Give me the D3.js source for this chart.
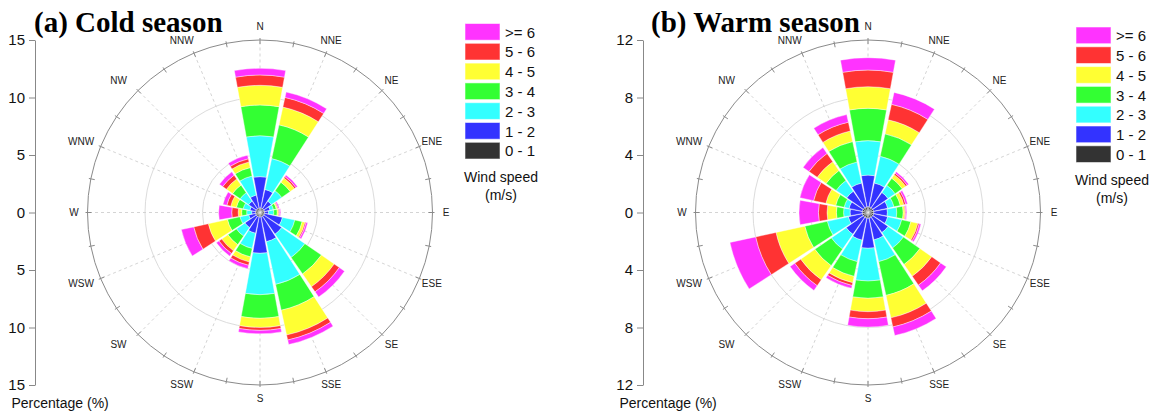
<!DOCTYPE html>
<html>
<head>
<meta charset="utf-8">
<script src="https://cdn.jsdelivr.net/npm/d3@7"></script>
<style>
  html, body { margin: 0; padding: 0; background: #fff; }
  svg { display: block; }
  text { font-family: "Liberation Sans", Arial, sans-serif; }
  text.title { font-family: "Liberation Serif", "Times New Roman", serif; font-weight: bold; }
</style>
</head>
<body>
<svg id="chart" width="1156" height="415"></svg>
<script>
// Wind direction sectors, clockwise from north
const directions = ["N", "NNE", "NE", "ENE", "E", "ESE", "SE", "SSE",
                    "S", "SSW", "SW", "WSW", "W", "WNW", "NW", "NNW"];

// Wind speed classes (m/s) and their colours, lowest class first
const speedBins  = ["0 - 1", "1 - 2", "2 - 3", "3 - 4", "4 - 5", "5 - 6", ">= 6"];
const binColors  = ["#333333", "#3333ff", "#33ffff", "#33ff33", "#ffff33", "#ff3333", "#ff33ff"];

// Cold season: frequency (%) of each speed class per direction
const cold01 = [0.4, 0.4, 0.4, 0.4, 0.4, 0.4, 0.4, 0.4, 0.4, 0.4, 0.4, 0.4, 0.4, 0.4, 0.4, 0.4];
const cold12 = [2.72, 1.65, 0.8, 0.5, 0.35, 1.6, 1.9, 2.2, 3.15, 1.45, 1.2, 0.6, 0.32, 0.5, 0.8, 1.15];
const cold23 = [3.56, 2.75, 1.1, 0.3, 0.45, 1.1, 2.45, 3.8, 3.6, 1.35, 0.9, 0.78, 0.44, 0.6, 0.9, 1.7];
const cold34 = [2.67, 3.0, 0.9, 0.25, 0.3, 0.65, 1.75, 2.3, 2.05, 0.75, 0.9, 1.12, 0.44, 0.6, 0.8, 0.75];
const cold45 = [1.71, 1.58, 0.45, 0.1, 0.12, 0.25, 1.35, 2.2, 0.8, 0.45, 0.65, 1.7, 0.3, 0.5, 0.65, 0.5];
const cold56 = [0.9, 0.86, 0.15, 0.07, 0.08, 0.1, 0.55, 0.45, 0.25, 0.3, 0.3, 1.3, 0.56, 0.35, 0.4, 0.28];
const cold6p = [0.58, 0.48, 0.17, 0.1, 0.1, 0.15, 0.55, 0.4, 0.3, 0.3, 0.27, 1.1, 1.14, 0.35, 0.35, 0.32];

// Warm season: frequency (%) of each speed class per direction
const warm01 = [0.4, 0.4, 0.4, 0.4, 0.4, 0.4, 0.4, 0.4, 0.4, 0.4, 0.4, 0.4, 0.4, 0.4, 0.4, 0.4];
const warm12 = [2.2, 1.7, 1.3, 1.0, 0.95, 1.0, 1.3, 1.55, 2.09, 1.57, 1.45, 1.0, 0.85, 0.95, 1.4, 1.7];
const warm23 = [2.4, 1.9, 0.6, 0.45, 0.65, 1.0, 1.3, 1.55, 2.28, 1.53, 1.25, 1.5, 0.45, 0.35, 0.9, 1.5];
const warm34 = [2.25, 1.6, 0.6, 0.45, 0.45, 0.65, 1.4, 2.4, 1.2, 1.05, 1.4, 1.6, 0.5, 0.6, 0.85, 1.45];
const warm45 = [1.5, 1.0, 0.3, 0.25, 0.12, 0.5, 1.0, 1.6, 0.93, 0.45, 1.2, 2.05, 0.65, 0.7, 0.75, 0.75];
const warm56 = [1.16, 1.1, 0.12, 0.13, 0.06, 0.1, 0.75, 0.65, 0.49, 0.2, 0.5, 1.45, 0.6, 0.87, 0.7, 0.63];
const warm6p = [0.86, 0.85, 0.13, 0.14, 0.07, 0.12, 0.48, 0.61, 0.58, 0.2, 0.4, 1.83, 1.35, 0.98, 0.5, 0.54];

// Radial axis ticks (%) for each panel
const coldTicks = [-15, -10, -5, 0, 5, 10, 15];
const warmTicks = [-12, -8, -4, 0, 4, 8, 12];
const coldRings = [5, 10, 15];
const warmRings = [4, 8, 12];

const panels = [
  { title: "(a) Cold season", bins: [cold01, cold12, cold23, cold34, cold45, cold56, cold6p],
    max: 15, ticks: coldTicks, rings: coldRings, cx: 260, titleX: 34, legendX: 465, legendY: 23.5 },
  { title: "(b) Warm season", bins: [warm01, warm12, warm23, warm34, warm45, warm56, warm6p],
    max: 12, ticks: warmTicks, rings: warmRings, cx: 868, titleX: 651, legendX: 1076, legendY: 27 }
];

const svg = d3.select("#chart");
svg.append("rect").attr("width", 1156).attr("height", 415).attr("fill", "#fff");

const cy = 212.5;
const R = 172.5;
const sector = 2 * Math.PI / directions.length;
const barHalf = (20.5 / 2) * Math.PI / 180;

panels.forEach(p => {
  const g = svg.append("g");
  const r = d3.scaleLinear().domain([0, p.max]).range([0, R]);
  const plot = g.append("g").attr("transform", `translate(${p.cx},${cy})`);

  // grid rings
  plot.selectAll("circle.ring")
    .data(p.rings.slice(0, -1))
    .join("circle")
    .attr("r", d => r(d))
    .attr("fill", "none")
    .attr("stroke", "#dcdcdc")
    .attr("stroke-width", 1);

  // dashed direction spokes
  plot.selectAll("line.spoke")
    .data(directions)
    .join("line")
    .attr("x1", 0).attr("y1", 0)
    .attr("x2", (d, i) => R * Math.sin(i * sector))
    .attr("y2", (d, i) => -R * Math.cos(i * sector))
    .attr("stroke", "#cfcfcf")
    .attr("stroke-width", 0.9)
    .attr("stroke-dasharray", "3,3");

  // outer circle with ticks every half sector
  plot.append("circle")
    .attr("r", r(p.max))
    .attr("fill", "none")
    .attr("stroke", "#8a8a8a")
    .attr("stroke-width", 1);
  plot.selectAll("line.otick")
    .data(d3.range(directions.length * 2))
    .join("line")
    .attr("x1", k => (R - 4) * Math.sin(k * sector / 2))
    .attr("y1", k => -(R - 4) * Math.cos(k * sector / 2))
    .attr("x2", k => (R + 2) * Math.sin(k * sector / 2))
    .attr("y2", k => -(R + 2) * Math.cos(k * sector / 2))
    .attr("stroke", "#8a8a8a")
    .attr("stroke-width", 1);

  // stacked wedges
  const arc = d3.arc();
  const segs = [];
  directions.forEach((dir, i) => {
    let cum = 0;
    p.bins.forEach((bin, b) => {
      const v = bin[i];
      segs.push({ i, b, inner: cum, outer: cum + v });
      cum += v;
    });
  });
  plot.selectAll("path.wedge")
    .data(segs)
    .join("path")
    .attr("d", s => arc({
      innerRadius: r(s.inner),
      outerRadius: r(s.outer),
      startAngle: s.i * sector - barHalf,
      endAngle: s.i * sector + barHalf
    }))
    .attr("fill", s => binColors[s.b])
    .attr("stroke", "#ffffff")
    .attr("stroke-width", 0.5)
    .attr("stroke-opacity", 0.8);

  // direction labels
  plot.selectAll("text.dir")
    .data(directions)
    .join("text")
    .attr("x", (d, i) => {
      const a = i * sector;
      const nudge = Math.sin(a) < -0.01 ? -10 * Math.abs(Math.sin(2 * a)) : 0;
      return 186 * Math.sin(a) + nudge;
    })
    .attr("y", (d, i) => -186 * Math.cos(i * sector))
    .attr("text-anchor", "middle")
    .attr("dominant-baseline", "central")
    .attr("font-size", 10)
    .attr("fill", "#222")
    .text(d => d);

  // vertical percentage axis
  const yScale = d3.scaleLinear().domain([-p.max, p.max]).range([cy + R, cy - R]);
  const axisX = p.cx - 225;
  const axisG = g.append("g")
    .attr("transform", `translate(${axisX},0)`)
    .call(d3.axisLeft(yScale)
      .tickValues(p.ticks)
      .tickFormat(v => Math.abs(v))
      .tickSize(6)
      .tickSizeOuter(0)
      .tickPadding(4));
  axisG.select(".domain").attr("stroke", "#888");
  axisG.selectAll(".tick line").attr("stroke", "#888");
  axisG.selectAll(".tick text")
    .attr("font-size", 15)
    .attr("fill", "#111");

  g.append("text")
    .attr("x", axisX - 23.5)
    .attr("y", 407.5)
    .attr("font-size", 14)
    .attr("fill", "#111")
    .text("Percentage (%)");

  // panel title
  g.append("text")
    .attr("class", "title")
    .attr("x", p.titleX)
    .attr("y", 31.5)
    .attr("font-size", 29)
    .attr("fill", "#000")
    .text(p.title);

  // legend, highest class on top
  const leg = g.append("g").attr("transform", `translate(${p.legendX},${p.legendY})`);
  const order = d3.range(speedBins.length).reverse();
  const rowH = 19.8;
  order.forEach((b, k) => {
    leg.append("rect")
      .attr("x", 0).attr("y", k * rowH)
      .attr("width", 35).attr("height", 16.7)
      .attr("fill", binColors[b])
      .attr("stroke", "#fff")
      .attr("stroke-opacity", 0.55)
      .attr("stroke-width", 1);
    leg.append("text")
      .attr("x", 40).attr("y", k * rowH + 8.6)
      .attr("dominant-baseline", "central")
      .attr("font-size", 15)
      .attr("fill", "#111")
      .text(speedBins[b]);
  });
  leg.append("text")
    .attr("x", 36).attr("y", 158.4)
    .attr("text-anchor", "middle")
    .attr("font-size", 14)
    .attr("fill", "#111")
    .text("Wind speed");
  leg.append("text")
    .attr("x", 36).attr("y", 176)
    .attr("text-anchor", "middle")
    .attr("font-size", 14)
    .attr("fill", "#111")
    .text("(m/s)");
});
</script>
</body>
</html>
